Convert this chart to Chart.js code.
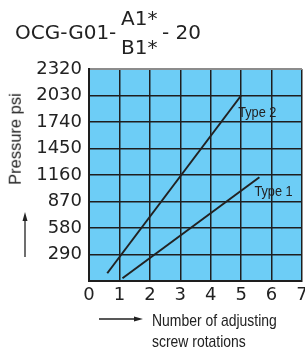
<!DOCTYPE html>
<html>
<head>
<meta charset="utf-8">
<script src="https://cdn.jsdelivr.net/npm/chart.js@4.4.1/dist/chart.umd.min.js"></script>
<style>
    html, body { margin: 0; padding: 0; background: #fff; }
    #wrap { position: relative; width: 305px; height: 356px; overflow: hidden; }
    #chart { position: absolute; left: 0; top: 0; }
    .t { position: absolute; white-space: nowrap; color: #222; line-height: 1; }
    .title { font-family: "DejaVu Sans", sans-serif; font-size: 20px; }
    #ytitle {
        font-family: "Liberation Sans", Arial, sans-serif; font-size: 16.5px;
        left: 14.5px; top: 139px; transform: translate(-50%, -50%) rotate(-90deg);
    }
    #xtitle {
        font-family: "Liberation Sans", sans-serif; font-size: 17px;
        line-height: 21px; left: 152px; top: 310px;
        transform: scaleX(0.82); transform-origin: 0 0;
    }
</style>
</head>
<body>
<div id="wrap">
    <canvas id="chart" width="305" height="356"></canvas>
    <div class="t title" style="left:15px; top:22px;">OCG-G01-</div>
    <div class="t title" style="left:121px; top:8px;">A1*</div>
    <div class="t title" style="left:121px; top:37px;">B1*</div>
    <div class="t title" style="left:162px; top:22px;">- 20</div>
    <div class="t" id="ytitle">Pressure psi</div>
    <div class="t" id="xtitle">Number of adjusting<br>screw rotations</div>
</div>
<script>
const rotations = [0, 1, 2, 3, 4, 5, 6, 7];
const pressureTicks = [0, 290, 580, 870, 1160, 1450, 1740, 2030, 2320];

const type1Rotations = [1.1, 5.6];
const type1Pressure = [30, 1135];
const type2Rotations = [0.6, 5.0];
const type2Pressure = [85, 2030];

const seriesNames = ['Type 1', 'Type 2'];

const lineColor = '#222';

function points(xs, ys) {
    return xs.map((x, i) => ({ x: x, y: ys[i] }));
}

const chartDecor = {
    id: 'chartDecor',
    beforeDraw(chart) {
        const { ctx, chartArea } = chart;
        ctx.save();
        ctx.fillStyle = '#6dcdf6';
        ctx.fillRect(chartArea.left, chartArea.top, chartArea.width, chartArea.height);
        ctx.restore();
    },
    afterDraw(chart) {
        const { ctx, scales } = chart;
        ctx.save();
        // series labels next to the line ends (narrowed like the original)
        ctx.fillStyle = '#222';
        ctx.font = '15px "Liberation Sans", sans-serif';
        ctx.textBaseline = 'alphabetic';
        const ends = [
            { name: seriesNames[1], x: type2Rotations[1], y: type2Pressure[1], dx: -3, dy: 21 },
            { name: seriesNames[0], x: type1Rotations[1], y: type1Pressure[1], dx: -5, dy: 19 }
        ];
        ends.forEach(e => {
            const px = scales.x.getPixelForValue(e.x) + e.dx;
            const py = scales.y.getPixelForValue(e.y) + e.dy;
            ctx.save();
            ctx.translate(px, py);
            ctx.scale(0.85, 1);
            ctx.fillText(e.name, 0, 0);
            ctx.restore();
        });

        // axis arrows
        ctx.strokeStyle = '#222';
        ctx.lineWidth = 1.3;
        ctx.beginPath();
        ctx.moveTo(25, 257);
        ctx.lineTo(25, 218);
        ctx.moveTo(99, 319);
        ctx.lineTo(137, 319);
        ctx.stroke();
        ctx.beginPath();
        ctx.moveTo(25, 212);
        ctx.lineTo(22.5, 221);
        ctx.lineTo(27.5, 221);
        ctx.closePath();
        ctx.moveTo(143, 319);
        ctx.lineTo(134, 316.5);
        ctx.lineTo(134, 321.5);
        ctx.closePath();
        ctx.fill();
        ctx.restore();
    }
};

new Chart(document.getElementById('chart'), {
    type: 'scatter',
    data: {
        datasets: [
            {
                label: seriesNames[0],
                data: points(type1Rotations, type1Pressure),
                showLine: true,
                borderColor: lineColor,
                borderWidth: 2,
                pointRadius: 0
            },
            {
                label: seriesNames[1],
                data: points(type2Rotations, type2Pressure),
                showLine: true,
                borderColor: lineColor,
                borderWidth: 2,
                pointRadius: 0
            }
        ]
    },
    options: {
        responsive: false,
        animation: false,
        layout: {
            padding: { top: 69, right: 3, left: 0, bottom: 0 }
        },
        plugins: {
            legend: { display: false },
            tooltip: { enabled: false }
        },
        scales: {
            x: {
                type: 'linear',
                min: rotations[0],
                max: rotations[rotations.length - 1],
                afterBuildTicks: scale => {
                    scale.ticks = rotations.map(v => ({ value: v }));
                },
                afterFit: scale => {
                    scale.height = 75;
                    scale.paddingLeft = 0;
                    scale.paddingRight = 0;
                },
                ticks: {
                    color: '#222',
                    padding: 4,
                    font: { family: '"DejaVu Sans", sans-serif', size: 18 }
                },
                grid: { color: '#1e1e1e', lineWidth: 1.5, drawTicks: false },
                border: { color: '#1e1e1e', width: 2 }
            },
            y: {
                min: pressureTicks[0],
                max: pressureTicks[pressureTicks.length - 1],
                afterBuildTicks: scale => {
                    scale.ticks = pressureTicks.map(v => ({ value: v }));
                },
                afterFit: scale => {
                    scale.width = 89;
                },
                ticks: {
                    color: '#222',
                    padding: 7,
                    font: { family: '"DejaVu Sans", sans-serif', size: 18 },
                    callback: v => (v === 0 ? '' : v)
                },
                grid: {
                    color: c => (c.tick && c.tick.value === pressureTicks[pressureTicks.length - 1] ? '#8c8c8c' : '#1e1e1e'),
                    lineWidth: c => (c.tick && c.tick.value === pressureTicks[pressureTicks.length - 1] ? 2 : 1.5),
                    drawTicks: false
                },
                border: { color: '#1e1e1e', width: 2 }
            }
        }
    },
    plugins: [chartDecor]
});
</script>
</body>
</html>
